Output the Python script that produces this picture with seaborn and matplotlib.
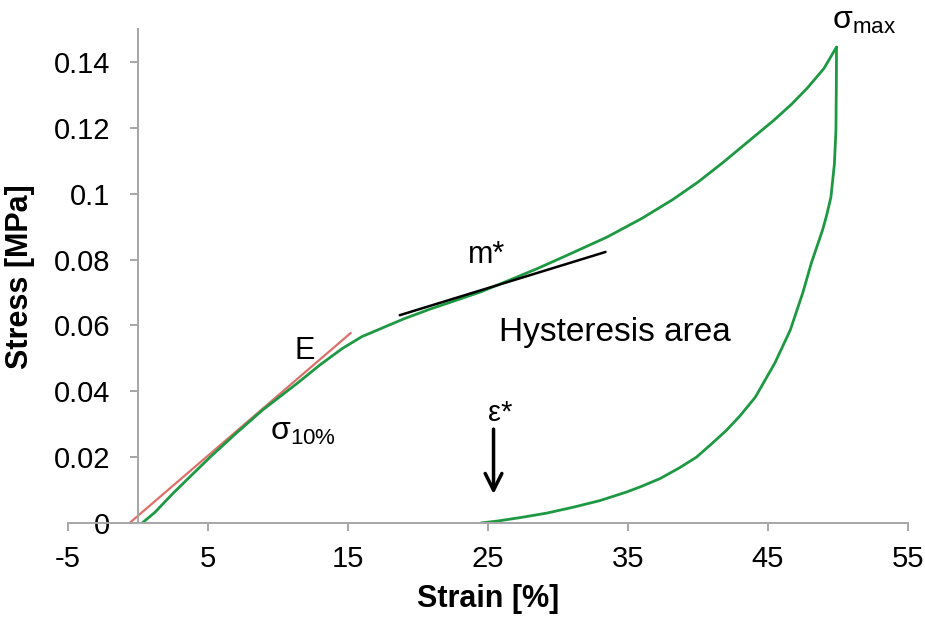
import matplotlib
matplotlib.use("Agg")
import matplotlib.pyplot as plt
import pandas as pd
import seaborn as sns

# loading branch (strain %, stress MPa)
load_strain = [0.3, 1.2, 2.5, 5.1, 7.0, 8.9, 11.4, 13.0, 14.6, 16.0, 17.5, 19.0,
               20.9, 22.3, 24.5, 26.4, 28.5, 30.5, 33.5, 36.0, 38.2, 40.0,
               41.8, 43.5, 45.4, 46.7, 47.8, 49.0, 49.9]
load_stress = [0.0, 0.0032, 0.0090, 0.0198, 0.0272, 0.0343, 0.0425, 0.0480,
               0.0530, 0.0566, 0.0593, 0.0620, 0.0650, 0.0670, 0.0702, 0.0735,
               0.0772, 0.0810, 0.0868, 0.0925, 0.0982, 0.1035, 0.1095, 0.1155,
               0.1222, 0.1272, 0.1320, 0.1380, 0.1445]

# unloading branch
unload_strain = [49.9, 49.89, 49.86, 49.75, 49.5, 49.2, 48.9, 48.1, 47.5, 46.6,
                 45.5, 44.1, 43.0, 42.05, 41.1, 39.9, 38.7, 37.3, 35.9, 34.9,
                 33.0, 31.1, 29.2, 27.4, 25.7, 24.5]
unload_stress = [0.1445, 0.1340, 0.1193, 0.1090, 0.0989, 0.0935, 0.0889,
                 0.0789, 0.0700, 0.0586, 0.0486, 0.0382, 0.0325, 0.0282,
                 0.0245, 0.0200, 0.0168, 0.0135, 0.0110, 0.0094, 0.0068,
                 0.0048, 0.0030, 0.0017, 0.0006, 0.0]

# tangent lines
e_strain = [-0.6, 15.2]
e_stress = [0.0, 0.0577]
m_strain = [18.7, 33.4]
m_stress = [0.0631, 0.0823]

x_ticks = [-5, 5, 15, 25, 35, 45, 55]
y_ticks = [0, 0.02, 0.04, 0.06, 0.08, 0.1, 0.12, 0.14]
y_ticklabels = ["0", "0.02", "0.04", "0.06", "0.08", "0.1", "0.12", "0.14"]

dfLoad = pd.DataFrame({"strain": load_strain, "stress": load_stress})
dfUnload = pd.DataFrame({"strain": unload_strain, "stress": unload_stress})
dfE = pd.DataFrame({"strain": e_strain, "stress": e_stress})
dfM = pd.DataFrame({"strain": m_strain, "stress": m_stress})

sns.set_style("ticks")
plt.rcParams["font.family"] = ["Liberation Sans", "DejaVu Sans"]
plt.rcParams["mathtext.fontset"] = "custom"
plt.rcParams["mathtext.rm"] = "Liberation Sans"
plt.rcParams["mathtext.it"] = "Liberation Sans"
plt.rcParams["mathtext.default"] = "regular"
plt.rcParams["axes.unicode_minus"] = False
plt.rcParams["text.color"] = "black"
plt.rcParams["axes.labelcolor"] = "black"

green = "#1f9843"
grey = "#a6a6a6"

fig = plt.figure(figsize=(9.25, 6.28), dpi=100)
ax = fig.add_axes([0.0735, 0.1672, 0.908, 0.7866])

sns.lineplot(x="strain", y="stress", data=dfE, color="#d9716a", linewidth=1.6,
             sort=False, estimator=None, ax=ax)
sns.lineplot(x="strain", y="stress", data=dfLoad, color=green, linewidth=2.0,
             sort=False, estimator=None, ax=ax)
sns.lineplot(x="strain", y="stress", data=dfUnload, color=green, linewidth=2.0,
             sort=False, estimator=None, ax=ax)
sns.lineplot(x="strain", y="stress", data=dfM, color="black", linewidth=1.8,
             sort=False, estimator=None, ax=ax)

ax.set_xlim(-5, 55)
ax.set_ylim(0, 0.15)
ax.set_xticks(x_ticks)
ax.set_yticks(y_ticks)
ax.set_yticklabels(y_ticklabels)

ax.spines["left"].set_position(("data", 0))
ax.spines["top"].set_visible(False)
ax.spines["right"].set_visible(False)
for s in ("left", "bottom"):
    ax.spines[s].set_color(grey)
    ax.spines[s].set_linewidth(1.4)
ax.tick_params(axis="both", direction="out", length=6, width=1.4, color=grey,
               labelsize=21, pad=10, labelcolor="black", bottom=True, left=True)
ax.tick_params(axis="y", pad=14)

ax.set_xlabel("Strain [%]", fontsize=22, fontweight="bold", labelpad=8)
ax.set_ylabel("")
fig.text(0.022, 0.56, "Stress [MPa]", fontsize=22, fontweight="bold",
         rotation=90, ha="center", va="center")

# annotations
ax.text(51.9, 0.1525, r"$\sigma_{max}$", fontsize=23, ha="center", va="center",
        clip_on=False)
ax.text(11.9, 0.0522, "E", fontsize=22, ha="center", va="center")
ax.text(9.4, 0.0276, r"$\sigma_{10\%}$", fontsize=23, ha="left", va="center")
ax.text(24.9, 0.0813, "m*", fontsize=22, ha="center", va="center")
ax.text(34.1, 0.0577, "Hysteresis area", fontsize=24, ha="center", va="center")
ax.text(25.9, 0.0335, "ε*", fontsize=21, ha="center", va="center")
ax.annotate("", xy=(25.4, 0.0088), xytext=(25.4, 0.0285),
            arrowprops=dict(arrowstyle="->", color="black", lw=2.5,
                            mutation_scale=30, shrinkA=0, shrinkB=0))

fig.savefig("out.png", dpi=100)
